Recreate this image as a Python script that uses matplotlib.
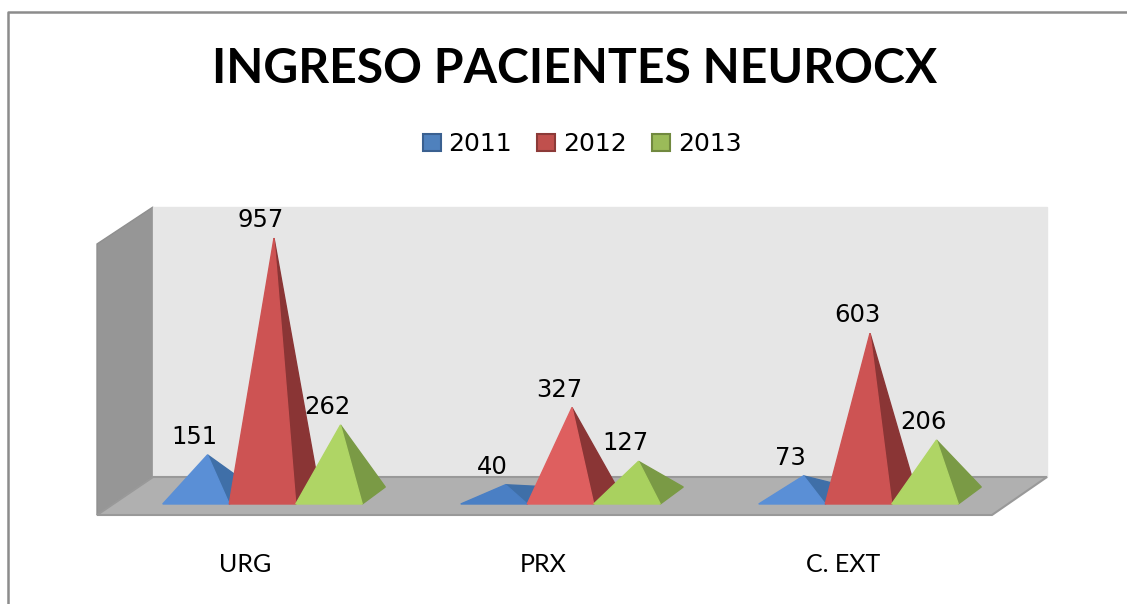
import matplotlib
matplotlib.use('Agg')

from matplotlib import pyplot as plt
from matplotlib.patches import Patch, Polygon

# data
categories = ['URG', 'PRX', 'C. EXT']
years = ['2011', '2012', '2013']
values_2011 = [151, 40, 73]
values_2012 = [957, 327, 603]
values_2013 = [262, 127, 206]

W, H = 1127, 604
# picture scale of the chart
PX_PER_VALUE = 0.269
PX_PER_CAT = 298
BASE_Y = 504
CENTER_X = 262.5
PYR_W = 66.5
DX, DY = 23, 17


def px(x, y):
	# pixel position -> data position
	return (x - CENTER_X) / PX_PER_CAT, (BASE_Y - y) / PX_PER_VALUE


def add_px(ax, pts, color, **kw):
	ax.add_patch(Polygon([px(*p) for p in pts], closed=True, facecolor=color, edgecolor=kw.pop('edge', color), linewidth=kw.pop('lw', 1.0), **kw))


def pyramid(ax, cat, offset, value, front, side):
	# front face starts on the category slot, the apex sits half way into the depth
	left = CENTER_X + cat * PX_PER_CAT + (offset - 1.5) * PYR_W
	right = left + PYR_W
	apex_x = (left + right) / 2 + DX / 2
	apex_y = BASE_Y - DY / 2 - value * PX_PER_VALUE
	add_px(ax, [(right, BASE_Y), (right + DX, BASE_Y - DY), (apex_x, apex_y)], side)
	add_px(ax, [(left, BASE_Y), (right, BASE_Y), (apex_x, apex_y)], front)


fig = plt.figure(figsize=(W / 100, H / 100), dpi=100)
ax = fig.add_axes([0, 0, 1, 1])
ax.set_xlim(px(0, 0)[0], px(W, 0)[0])
ax.set_ylim(px(0, H)[1], px(0, 0)[1])
ax.axis('off')

# walls and floor
add_px(ax, [(97, 244), (153, 207), (153, 477), (97, 515)], '#969696', edge='#8f8f8f')
add_px(ax, [(153, 207), (1047, 207), (1047, 477), (153, 477)], '#e6e6e6')
add_px(ax, [(153, 477), (1047, 477), (992, 515), (97, 515)], '#b0b0b0', edge='#999999', lw=1.5)

# outer frame, open on the right side
frame = [px(7.5, H), px(7.5, 12), px(W, 12)]
ax.plot([p[0] for p in frame], [p[1] for p in frame], color='#8c8c8c', lw=1.8)

fronts = ['#5a8fd6', '#cd5353', '#afd565']
sides = ['#3f6fa8', '#8a3535', '#7a9a45']
prx_fronts = ['#4a7fc4', '#de5f5f', '#a9d15f']
series = [values_2011, values_2012, values_2013]

for cat in range(len(categories)):
	cols = prx_fronts if categories[cat] == 'PRX' else fronts
	for i, vals in enumerate(series):
		pyramid(ax, cat, i, vals[cat], cols[i], sides[i])
	ax.text(px(245.5 + cat * PX_PER_CAT + (2 if cat == 2 else 0), 0)[0], px(0, 564)[1], categories[cat], ha='center', va='center', fontsize=18, family='Lato')

# value labels
for cat in range(len(categories)):
	for i, vals in enumerate(series):
		x = CENTER_X + cat * PX_PER_CAT + (i - 1) * PYR_W - 1.5
		y = BASE_Y - DY / 2 - vals[cat] * PX_PER_VALUE - 11
		ax.text(px(x, 0)[0], px(0, y)[1], str(vals[cat]), ha='center', va='baseline', fontsize=17.5, family='DejaVu Sans', color='black')

ax.text(px(574.5, 0)[0], px(0, 69)[1], 'INGRESO PACIENTES NEUROCX', ha='center', va='center', fontsize=34.7, fontweight='bold', family='Lato')

handles = [Patch(facecolor=c, edgecolor=e, linewidth=1.5, label=y) for c, e, y in zip(['#4f81bd', '#c0504d', '#9bbb59'], ['#3a6090', '#8c3a38', '#71893f'], years)]
ax.legend(handles=handles, ncols=3, loc='center', bbox_to_anchor=(582 / W, 1 - 144 / H), frameon=False,
	handlelength=0.72, handleheight=0.68, handletextpad=0.32, columnspacing=1.0, borderpad=0, prop={'family': 'DejaVu Sans', 'size': 18})

fig.savefig('out.png', dpi=100)
